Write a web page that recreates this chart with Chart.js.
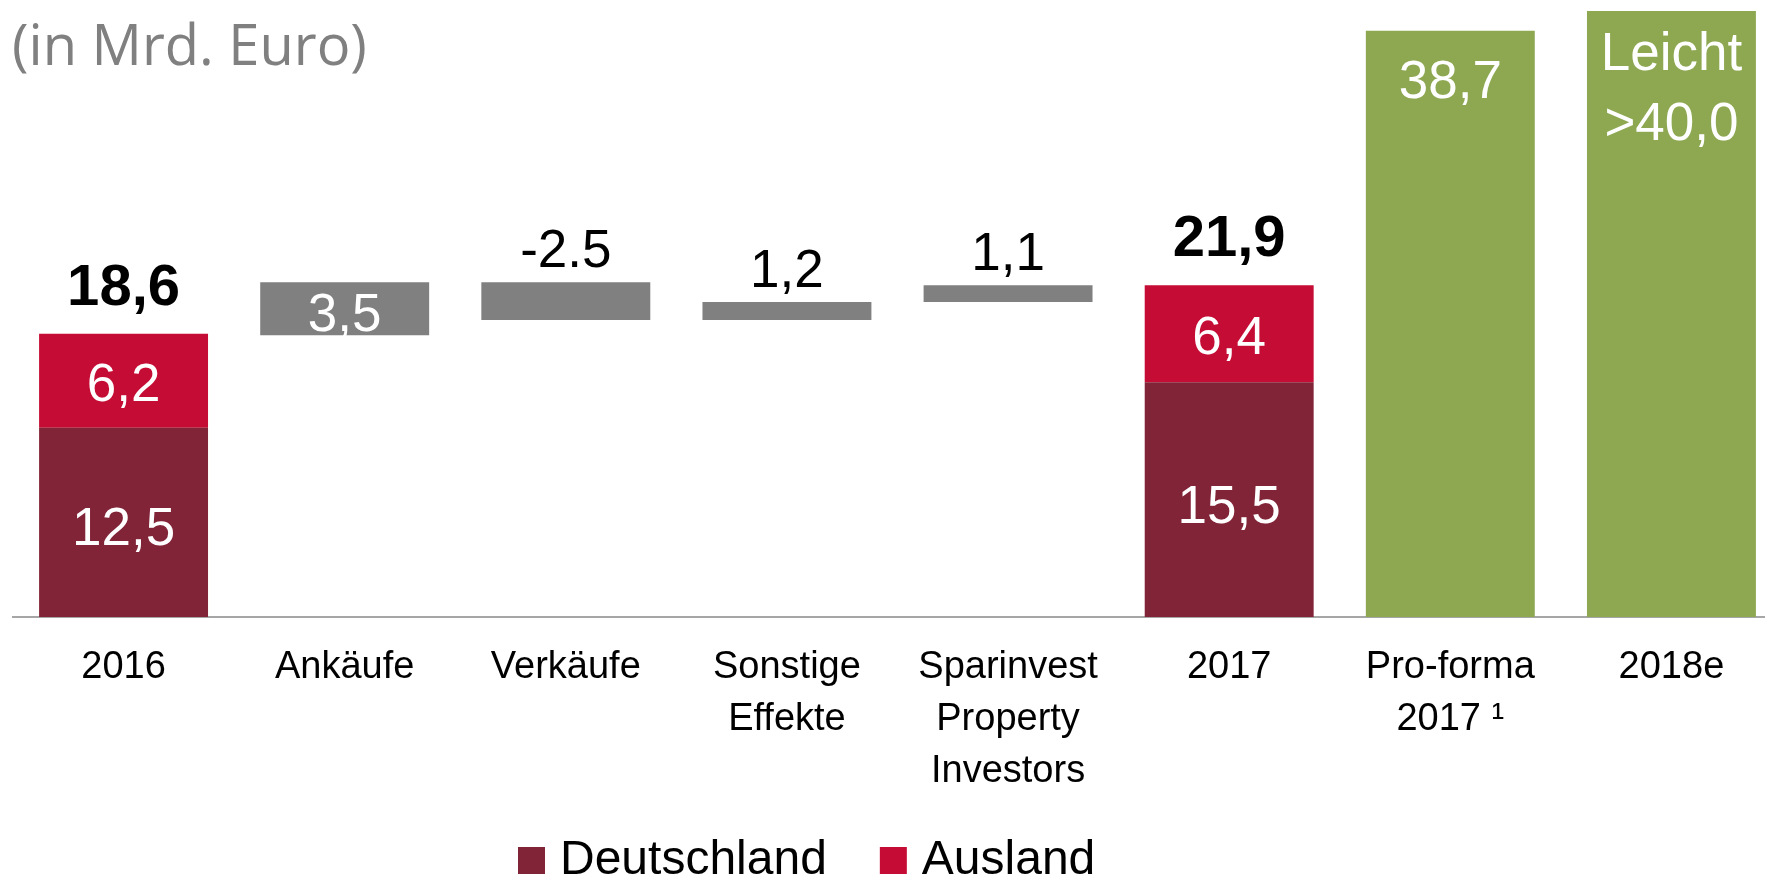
<!DOCTYPE html>
<html lang="de">
<head>
<meta charset="utf-8">
<title>Immobilienvermögen</title>
<script src="https://cdn.jsdelivr.net/npm/chart.js@4.4.1/dist/chart.umd.min.js"></script>
<style>
    html, body { margin: 0; padding: 0; background: #fff; overflow: hidden; }
    .chart-box { position: relative; width: 1782px; height: 879px; }
</style>
</head>
<body>
<div class="chart-box"><canvas id="portfolioChart"></canvas></div>
<script>
// Categories (multi-line labels as arrays)
const categories = ['2016', 'Ankäufe', 'Verkäufe', ['Sonstige', 'Effekte'], ['Sparinvest', 'Property', 'Investors'], '2017', ['Pro-forma', '2017 ¹'], '2018e'];

// Portfolio 2016 / 2017 in Mrd. Euro
const deutschland = [12.5, null, null, null, null, 15.5, null, null];
const ausland = [6.2, null, null, null, null, 6.4, null, null];
const totals = [18.6, null, null, null, null, 21.9, null, null];

// Changes between 2016 and 2017
const changes = [null, 3.5, -2.5, 1.2, 1.1, null, null, null];
const changeLabels = [null, '3,5', '-2.5', '1,2', '1,1', null, null, null];

// Pro-forma and outlook
const outlook = [null, null, null, null, null, null, 38.7, 40.0];
const outlookLabels = [null, null, null, null, null, null, ['38,7'], ['Leicht', '>40,0']];

const FONT = '"Liberation Sans", Arial, sans-serif';
const TITLE_FONT = '"Open Sans", "Liberation Sans", sans-serif';

const colors = {
    deutschland: '#822438',
    ausland: '#c50c35',
    change: '#808080',
    outlook: '#8ea852',
    axis: '#a6a6a6',
    title: '#808080'
};

function formatValue(v) {
    return v.toFixed(1).replace('.', ',');
}

// Ausland sits on top of Deutschland
const auslandBars = deutschland.map((d, i) => d === null ? null : [d, d + ausland[i]]);

// Waterfall: start from the 2016 total
let level = totals[0];
const changeBars = changes.map(c => {
    if (c === null) return null;
    const bar = [level, level + c];
    level += c;
    return bar;
});

// Value labels on the bars
const barLabelsPlugin = {
    id: 'barLabels',
    afterDatasetsDraw(chart) {
        const ctx = chart.ctx;
        const metaD = chart.getDatasetMeta(0);
        const metaA = chart.getDatasetMeta(1);
        const metaC = chart.getDatasetMeta(2);
        const metaO = chart.getDatasetMeta(3);
        ctx.save();
        ctx.textAlign = 'center';
        ctx.textBaseline = 'alphabetic';

        categories.forEach((cat, i) => {
            if (deutschland[i] !== null) {
                const d = metaD.data[i];
                const a = metaA.data[i];
                ctx.fillStyle = '#fff';
                ctx.font = '53px ' + FONT;
                ctx.fillText(formatValue(deutschland[i]), d.x, (d.y + d.base) / 2 + 23);
                ctx.fillText(formatValue(ausland[i]), a.x, (a.y + a.base) / 2 + 20);
                ctx.fillStyle = '#000';
                ctx.font = 'bold 58px ' + FONT;
                ctx.fillText(formatValue(totals[i]), a.x, Math.min(a.y, a.base) - 29);
            }
            if (changes[i] !== null) {
                const c = metaC.data[i];
                const top = Math.min(c.y, c.base);
                ctx.font = '53px ' + FONT;
                if (Math.abs(changes[i]) >= 3) {
                    ctx.fillStyle = '#fff';
                    ctx.fillText(changeLabels[i], c.x, (c.y + c.base) / 2 + 22);
                } else {
                    ctx.fillStyle = '#000';
                    ctx.fillText(changeLabels[i], c.x, top - 15);
                }
            }
            if (outlook[i] !== null) {
                const o = metaO.data[i];
                const lines = outlookLabels[i];
                const startY = o.y + (lines.length > 1 ? 59 : 67);
                ctx.fillStyle = '#fff';
                ctx.font = '53px ' + FONT;
                lines.forEach((line, k) => {
                    ctx.fillText(line, o.x, startY + k * 70);
                });
            }
        });
        ctx.restore();
    }
};

// Unit caption and legend
const captionLegendPlugin = {
    id: 'captionLegend',
    afterDraw(chart) {
        const ctx = chart.ctx;
        ctx.save();
        ctx.textBaseline = 'alphabetic';
        ctx.textAlign = 'left';
        ctx.fillStyle = colors.title;
        ctx.font = '56px ' + TITLE_FONT;
        ctx.fillText('(in Mrd. Euro)', 12, 65);

        ctx.font = '48px ' + FONT;
        let x = 518;
        chart.data.datasets.slice(0, 2).forEach(ds => {
            ctx.fillStyle = ds.backgroundColor;
            ctx.fillRect(x, 847, 27, 27);
            ctx.fillStyle = '#000';
            ctx.fillText(ds.label, x + 42, 874);
            x += 42 + ctx.measureText(ds.label).width + 53;
        });
        ctx.restore();
    }
};

document.addEventListener('DOMContentLoaded', function() {
    const ctx = document.getElementById('portfolioChart').getContext('2d');

    new Chart(ctx, {
        type: 'bar',
        data: {
            labels: categories,
            datasets: [
                { label: 'Deutschland', data: deutschland, backgroundColor: colors.deutschland },
                { label: 'Ausland', data: auslandBars, backgroundColor: colors.ausland },
                { label: 'Veränderung', data: changeBars, backgroundColor: colors.change },
                { label: 'Ausblick', data: outlook, backgroundColor: colors.outlook }
            ]
        },
        options: {
            responsive: true,
            maintainAspectRatio: false,
            devicePixelRatio: 1,
            animation: false,
            barPercentage: 0.764,
            categoryPercentage: 1.0,
            layout: {
                padding: { left: 13, right: 0, top: 11, bottom: 0 }
            },
            plugins: {
                legend: { display: false },
                tooltip: { enabled: false }
            },
            scales: {
                x: {
                    stacked: true,
                    grid: { display: false, drawTicks: false },
                    border: { display: true, color: colors.axis, width: 2 },
                    ticks: {
                        color: '#000',
                        padding: 25,
                        maxRotation: 0,
                        autoSkip: false,
                        font: { family: FONT, size: 38, lineHeight: 1.36 }
                    },
                    afterFit(scale) {
                        scale.height = 262; // room for labels and legend
                    }
                },
                y: {
                    display: false,
                    stacked: false,
                    min: 0,
                    max: 40
                }
            }
        },
        plugins: [barLabelsPlugin, captionLegendPlugin]
    });
});
</script>
</body>
</html>
